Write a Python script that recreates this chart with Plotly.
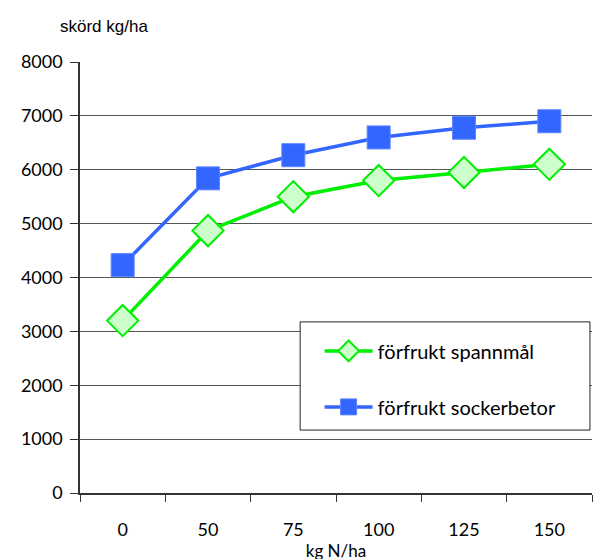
import plotly.graph_objects as go

categories = ["0", "50", "75", "100", "125", "150"]
spannmal = [3200, 4870, 5500, 5800, 5950, 6100]
sockerbetor = [4230, 5840, 6270, 6600, 6780, 6900]
y_ticks = [0, 1000, 2000, 3000, 4000, 5000, 6000, 7000, 8000]
y_ticklabels = [str(v) for v in y_ticks]

FONT = "Lato, 'Liberation Sans', sans-serif"

fig = go.Figure()
fig.add_trace(go.Scatter(
    x=categories, y=spannmal, name="förfrukt spannmål",
    mode="lines+markers", legendgroup="a",
    line=dict(color="#00ee00", width=3.5),
    marker=dict(symbol="diamond", size=24, color="#ccffcc",
                line=dict(color="#00ee00", width=2)),
))
fig.add_trace(go.Scatter(
    x=categories, y=sockerbetor, name="förfrukt sockerbetor",
    mode="lines+markers", legendgroup="b",
    line=dict(color="#3366ff", width=3.5),
    marker=dict(symbol="square", size=23, color="#3366ff",
                line=dict(color="#5c85ff", width=1)),
))

fig.update_layout(
    width=604, height=559,
    margin=dict(l=72, r=20, t=54, b=74, autoexpand=False),
    paper_bgcolor="white", plot_bgcolor="white",
    font=dict(family=FONT, size=17, color="black"),
    showlegend=True,
    legend=dict(
        x=0.468, y=0.375, xanchor="left", yanchor="top",
        bgcolor="rgba(0,0,0,0)", borderwidth=0,
        font=dict(size=20, family=FONT),
        tracegroupgap=27, itemwidth=48,
    ),
    shapes=[dict(
        type="rect", xref="paper", yref="paper",
        x0=0.43, x1=0.996, y0=0.146, y1=0.397,
        line=dict(color="#222", width=1), fillcolor="white", layer="above",
    )],
    xaxis=dict(
        type="category", range=[-0.5, 5.5],
        showgrid=False, showline=True, linecolor="#333", linewidth=1.5,
        ticks="outside", tickson="boundaries", ticklen=7, tickcolor="#333",
        tickfont=dict(size=18), zeroline=False, ticklabelstandoff=20,
        title=dict(text="kg N/ha", font=dict(size=17), standoff=0),
    ),
    yaxis=dict(
        range=[0, 8000], tickvals=y_ticks, ticktext=y_ticklabels,
        showgrid=True, gridcolor="#555", gridwidth=1,
        showline=True, linecolor="#333", linewidth=1.5,
        ticks="outside", ticklen=8, tickcolor="#333",
        tickfont=dict(size=18), zeroline=False, ticklabelstandoff=4,
    ),
    annotations=[dict(
        text="skörd kg/ha", xref="paper", yref="paper",
        x=-0.043, y=1.0835, xanchor="left", yanchor="middle",
        showarrow=False, font=dict(size=17, family="'Liberation Sans', Arial, sans-serif"),
    )],
)

fig.write_html("out.html")
